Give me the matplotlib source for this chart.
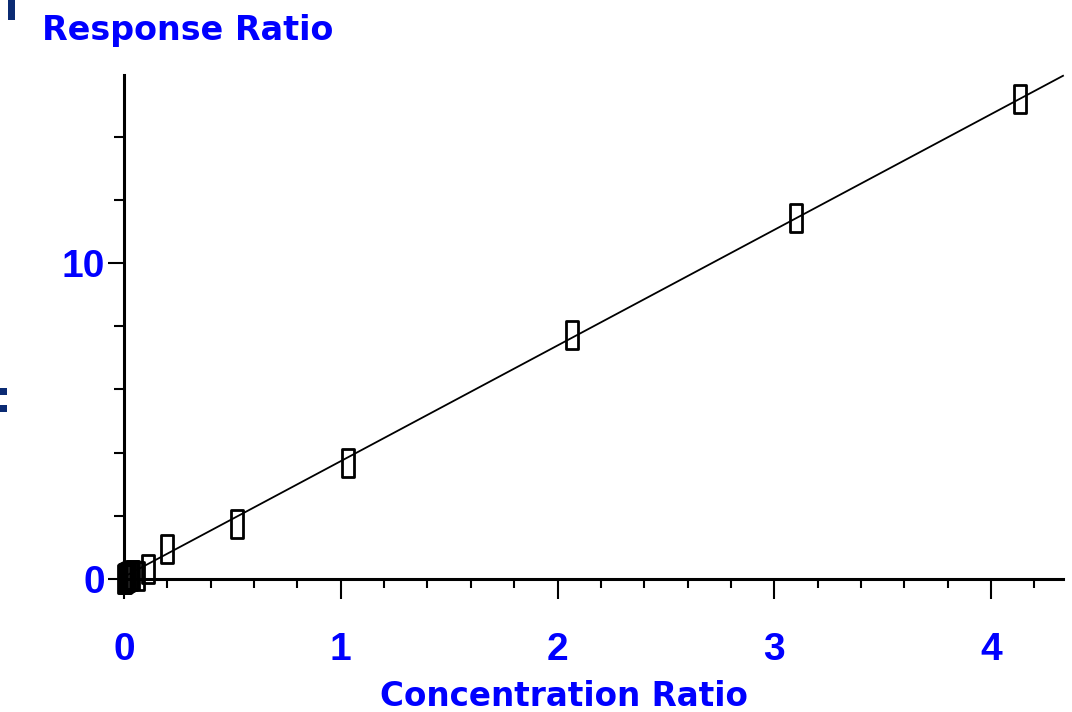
import matplotlib
matplotlib.use("Agg")
import matplotlib.pyplot as plt
from matplotlib.path import Path
from matplotlib.patches import Rectangle
import numpy as np

# ---- data ----
conc_ratio = [0.0, 0.0025, 0.005, 0.0075, 0.01, 0.015, 0.02, 0.025, 0.03, 0.035, 0.04, 0.065,
              0.11, 0.198, 0.521, 1.033, 2.069, 3.10, 4.134]
resp_ratio = [0.0, 0.01, 0.02, 0.03, 0.04, 0.06, 0.07, 0.09, 0.10, 0.12, 0.13, 0.11,
              0.32, 0.95, 1.74, 3.67, 7.72, 11.42, 15.20]
fit_intercept = 0.07
fit_slope = 3.66
fit_x_range = [0.0, 4.332]
x_major_ticks = [0, 1, 2, 3, 4]
x_tick_labels = ["0", "1", "2", "3", "4"]
y_major_ticks = [0, 10]
y_tick_labels = ["0", "10"]
y_minor_ticks = [2, 4, 6, 8, 12, 14]
x_minor_ticks = [v / 5 for v in range(0, 22) if v % 5 != 0]
x_label = "Concentration Ratio"
y_label = "Response Ratio"

W, H = 1072, 712
fig = plt.figure(figsize=(W / 100, H / 100), dpi=100)
ax = fig.add_axes([124 / W, (H - 579) / H, (1063 - 124) / W, (579 - 75) / H])

blue = "#0000FF"

# fitted line
fx = np.array(fit_x_range)
ax.plot(fx, fit_intercept + fit_slope * fx, color="black", lw=1.3, zorder=2, clip_on=False)

# tall rectangle marker
rect = Path([(-0.225, -0.5), (0.225, -0.5), (0.225, 0.5), (-0.225, 0.5), (-0.225, -0.5)],
            [Path.MOVETO, Path.LINETO, Path.LINETO, Path.LINETO, Path.CLOSEPOLY])
ax.plot(conc_ratio, resp_ratio, linestyle="none", marker=rect, markersize=19.5,
        markerfacecolor="none", markeredgecolor="black", markeredgewidth=2.0,
        zorder=3, clip_on=False)

ax.set_xlim(0, 4.332)
ax.set_ylim(0, 15.95)

for s in ["top", "right"]:
    ax.spines[s].set_visible(False)
for s in ["left", "bottom"]:
    ax.spines[s].set_linewidth(2.2)
    ax.spines[s].set_color("black")

ax.set_xticks(x_major_ticks)
ax.set_xticklabels(x_tick_labels)
ax.set_xticks(x_minor_ticks, minor=True)
ax.set_yticks(y_major_ticks)
ax.set_yticklabels(y_tick_labels)
ax.set_yticks(y_minor_ticks, minor=True)

ax.tick_params(axis="x", which="major", direction="out", length=14.5, width=1.5, pad=24,
               labelsize=28, labelcolor=blue)
ax.tick_params(axis="x", which="minor", direction="out", length=6.5, width=1.5)
ax.tick_params(axis="y", which="major", direction="out", length=11.5, width=1.5, pad=2,
               labelsize=28, labelcolor=blue)
ax.tick_params(axis="y", which="minor", direction="out", length=7, width=1.5)
for lab in ax.get_xticklabels() + ax.get_yticklabels():
    lab.set_fontfamily("Liberation Sans")
    lab.set_fontweight("bold")

fig.text(42 / W, 1 - 40 / H, y_label, color=blue, fontsize=24, fontweight="bold",
         family="DejaVu Sans", ha="left", va="baseline")
fig.text(563.5 / W, 1 - 706 / H, x_label, color=blue, fontsize=23.5, fontweight="bold",
         family="DejaVu Sans", ha="center", va="baseline")

# cut-off fragments at the left edge
navy = "#0b2b73"
fig.patches.append(Rectangle((8 / W, 1 - 20 / H), 7 / W, 20 / H, transform=fig.transFigure,
                             facecolor=navy, edgecolor="none"))
fig.patches.append(Rectangle((0, 1 - 395 / H), 7 / W, 7 / H, transform=fig.transFigure,
                             facecolor=navy, edgecolor="none"))
fig.patches.append(Rectangle((0, 1 - 412 / H), 7 / W, 7 / H, transform=fig.transFigure,
                             facecolor=navy, edgecolor="none"))

fig.savefig("out.png", dpi=100)
